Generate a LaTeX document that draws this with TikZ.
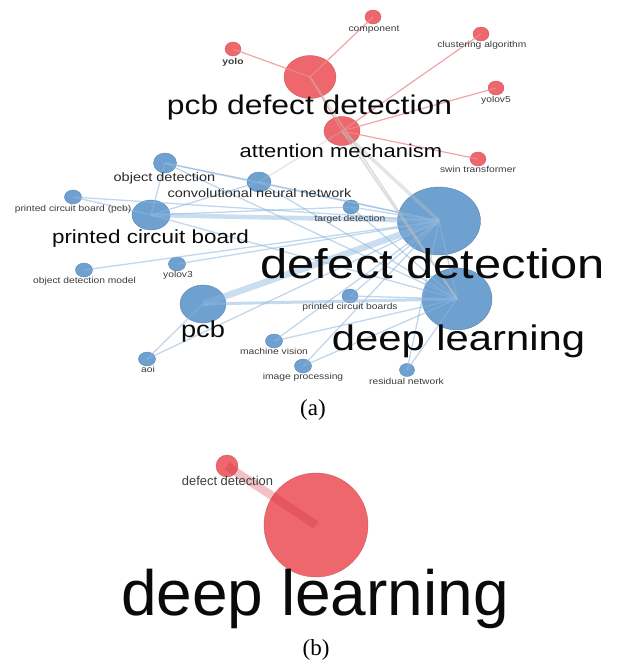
\documentclass[tikz,border=0pt]{standalone}
\usepackage{fontspec}
\usepackage{graphicx}
\setmainfont{Liberation Sans}
\newfontfamily\capfont{Liberation Serif}
\usetikzlibrary{shapes.geometric}
\definecolor{nred}{RGB}{237,103,108}
\definecolor{nblue}{RGB}{110,160,208}
\definecolor{eblue}{RGB}{140,182,222}
\definecolor{ered}{RGB}{238,140,146}
\definecolor{egray}{RGB}{190,190,190}
\definecolor{bedgecol}{RGB}{215,50,62}
\definecolor{labs}{RGB}{60,60,60}
\definecolor{labm}{RGB}{40,40,40}
\definecolor{labb}{RGB}{10,10,10}
\newcommand{\hs}[1]{\scalebox{1.18}[1]{#1}}
\tikzset{
  rnode/.style={ellipse, inner sep=0, fill=nred, draw=nred!88!black, line width=0.4pt},
  bnode/.style={ellipse, inner sep=0, fill=nblue, draw=nblue!85!black, line width=0.4pt},
  bedge/.style={draw=eblue, line width=1.3pt, opacity=0.55},
  redge/.style={draw=ered, line width=1.2pt, opacity=0.8},
  gedge/.style={draw=egray, line width=1.5pt, opacity=0.55},
  lbl/.style={anchor=base, inner sep=0},
  slab/.style={lbl, text=labs, font=\fontsize{8.7}{9}\selectfont},
  mlab/.style={lbl, text=labm, font=\fontsize{12.3}{13}\selectfont},
  blab/.style={lbl, text=labb},
}
\begin{document}
\begin{tikzpicture}[x=1pt,y=-1pt]
\useasboundingbox (0,0) rectangle (622,662);
% ---------- panel (a): nodes ----------
\node[rnode, minimum width=16, minimum height=14] (comp) at (373,17) {};
\node[rnode, minimum width=16, minimum height=14] (clus) at (481,34) {};
\node[rnode, minimum width=16, minimum height=14] (yolo) at (233,49) {};
\node[rnode, minimum width=52, minimum height=43] (pdd) at (310,77) {};
\node[rnode, minimum width=16, minimum height=14] (yv5) at (496,88) {};
\node[rnode, minimum width=36, minimum height=29] (att) at (342,131) {};
\node[rnode, minimum width=16, minimum height=14] (swin) at (478,159) {};
\node[bnode, minimum width=23, minimum height=20] (od) at (165,163) {};
\node[bnode, minimum width=24, minimum height=20] (cnn) at (259,182) {};
\node[bnode, minimum width=17, minimum height=14] (pcbp) at (73,197) {};
\node[bnode, minimum width=38, minimum height=30] (pcbd) at (151,215) {};
\node[bnode, minimum width=16, minimum height=14] (td) at (351,207) {};
\node[bnode, minimum width=83, minimum height=68] (dd) at (439,221) {};
\node[bnode, minimum width=17, minimum height=14] (odm) at (84,270) {};
\node[bnode, minimum width=17, minimum height=14] (yv3) at (177,264) {};
\node[bnode, minimum width=46, minimum height=38] (pcb) at (203,304) {};
\node[bnode, minimum width=16, minimum height=14] (pcbs) at (350,296) {};
\node[bnode, minimum width=70, minimum height=62] (dl) at (457,299) {};
\node[bnode, minimum width=17, minimum height=14] (mv) at (274,341) {};
\node[bnode, minimum width=17, minimum height=14] (aoi) at (147,359) {};
\node[bnode, minimum width=17, minimum height=14] (ip) at (303,366) {};
\node[bnode, minimum width=15, minimum height=13] (rn) at (407,370) {};
% ---------- panel (a): edges ----------
\foreach \a/\b in {od/cnn, od/pcbd, od/dd, od/dl, cnn/pcbd, cnn/dd, cnn/dl,
  pcbp/dd, pcbp/pcbd, pcbd/td, pcbd/dl, td/dd, td/dl, odm/dd, yv3/dd, pcb/aoi,
  pcbs/dd, pcbs/dl, mv/dd, mv/dl, ip/dd, ip/dl, rn/dd, rn/dl, dd/dl, aoi/dd}
  \draw[bedge] (\a.center) -- (\b.center);
\draw[bedge, line width=4.5pt, opacity=0.45] (pcbd.center) -- (dd.center);
\draw[bedge, line width=6.5pt, opacity=0.45] (pcb.center) -- (dd.center);
\draw[bedge, line width=3pt, opacity=0.5] (pcb.center) -- (dl.center);
\draw[gedge, opacity=0.35] (att.center) -- (cnn.center);
\draw[gedge, line width=3.5pt, opacity=0.4] (att.center) -- (dd.center);
\draw[gedge] (att.center) -- (dl.center);
\draw[gedge] (pdd.center) -- (dl.center);
\foreach \a/\b in {pdd/yolo, pdd/comp, pdd/att, att/clus, att/yv5, att/swin}
  \draw[redge] (\a.center) -- (\b.center);
% ---------- panel (a): labels ----------
\node[slab] (tcomp) at (374,31) {\hs{component}};
\node[slab] (tclus) at (482,47) {\hs{clustering algorithm}};
\node[slab, font=\fontsize{8.7}{9}\selectfont\bfseries] (tyolo) at (233,64) {\hs{yolo}};
\node[slab] (tyv5) at (496,102) {\hs{yolov5}};
\node[slab] (tswin) at (478,172) {\hs{swin transformer}};
\node[slab] (ttd) at (350,221) {\hs{target detection}};
\node[slab] (tpcbp) at (73,211) {\hs{printed circuit board (pcb)}};
\node[slab] (todm) at (84.5,283) {\hs{object detection model}};
\node[slab] (tyv3) at (178,277) {\hs{yolov3}};
\node[slab] (tpcbs) at (350,309) {\hs{printed circuit boards}};
\node[slab] (tmv) at (274,354) {\hs{machine vision}};
\node[slab] (taoi) at (148,372) {\hs{aoi}};
\node[slab] (tip) at (303,379) {\hs{image processing}};
\node[slab] (trn) at (406.5,384) {\hs{residual network}};
\node[mlab] (tod) at (164.5,181) {\hs{object detection}};
\node[mlab] (tcnn) at (259.5,197) {\hs{convolutional neural network}};
\node[blab, font=\fontsize{27}{28}\selectfont] (tpdd) at (309.5,114) {\hs{pcb defect detection}};
\node[blab, font=\fontsize{18.6}{19}\selectfont] (tatt) at (341,157) {\hs{attention mechanism}};
\node[blab, font=\fontsize{19}{20}\selectfont] (tpcbd) at (150.5,243) {\hs{printed circuit board}};
\node[blab, font=\fontsize{41.4}{42}\selectfont] (tdd) at (432.5,278) {\hs{defect detection}};
\node[blab, font=\fontsize{23.1}{24}\selectfont] (tpcb) at (203,337) {\hs{pcb}};
\node[blab, font=\fontsize{35.4}{36}\selectfont] (tdl) at (458.5,350) {\hs{deep learning}};
\node[lbl, font=\capfont\fontsize{23}{24}\selectfont] (capa) at (313,415) {(a)};
% ---------- panel (b) ----------
\node[rnode, minimum size=22] (bdd) at (227,466) {};
\node[rnode, minimum size=104] (bdl) at (316,525) {};
\draw[draw=bedgecol, line width=8.5pt, opacity=0.3] (bdd.center) -- (bdl.center);
\node[lbl, text=labs, font=\fontsize{12.9}{13}\selectfont] (tbdd) at (227.5,485) {defect detection};
\node[blab, font=\fontsize{64}{65}\selectfont] (tbdl) at (315,615) {deep learning};
\node[lbl, font=\capfont\fontsize{23}{24}\selectfont] (capb) at (316,655) {(b)};
\end{tikzpicture}
\end{document}
